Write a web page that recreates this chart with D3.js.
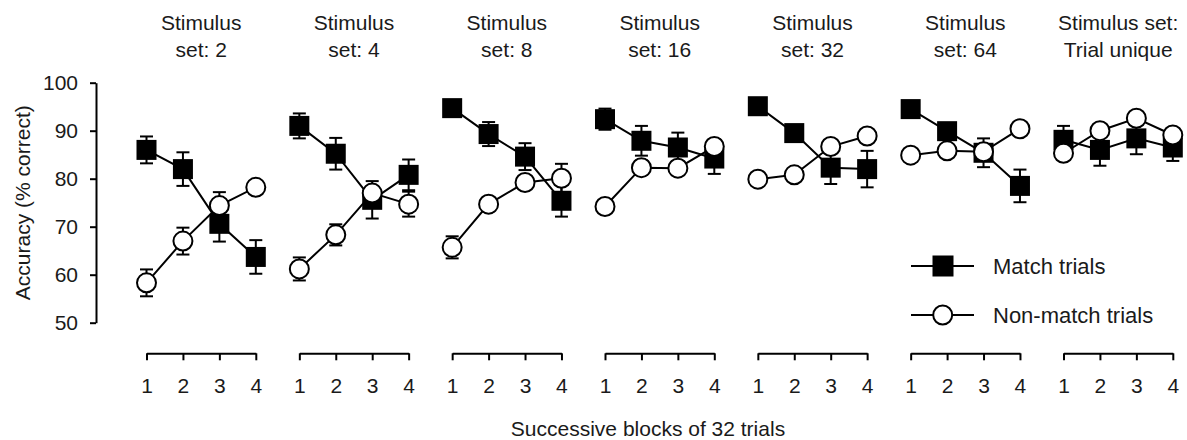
<!DOCTYPE html>
<html>
<head>
<meta charset="utf-8">
<script src="https://cdn.jsdelivr.net/npm/d3@7"></script>
<style>
  body { margin: 0; background: #fff; }
  text { font-family: "Liberation Sans", Arial, sans-serif; fill: #1a1a1a; }
</style>
</head>
<body>
<svg id="chart" width="1187" height="440"></svg>
<script>
// data
var titlesTop = ["Stimulus", "Stimulus", "Stimulus", "Stimulus", "Stimulus", "Stimulus", "Stimulus set:"];
var titlesBottom = ["set: 2", "set: 4", "set: 8", "set: 16", "set: 32", "set: 64", "Trial unique"];
var blocks = [1, 2, 3, 4];
var yTicks = [50, 60, 70, 80, 90, 100];

var matchMean = [
  [86.0, 82.0, 70.6, 63.7],
  [91.0, 85.2, 75.6, 80.8],
  [94.7, 89.3, 84.6, 75.4],
  [92.4, 87.9, 86.5, 84.2],
  [95.1, 89.5, 82.3, 82.0],
  [94.5, 89.9, 85.4, 78.5],
  [88.1, 86.0, 88.4, 86.5]
];
var matchErr = [
  [2.8, 3.5, 3.7, 3.5],
  [2.6, 3.3, 3.9, 3.2],
  [1.0, 2.5, 2.8, 3.3],
  [2.2, 3.1, 3.1, 3.2],
  [1.0, 1.5, 3.4, 3.8],
  [1.0, 1.5, 3.0, 3.4],
  [2.9, 3.3, 3.3, 2.8]
];
var nonMean = [
  [58.3, 67.0, 74.4, 78.2],
  [61.2, 68.3, 77.0, 74.7],
  [65.7, 74.7, 79.2, 80.1],
  [74.2, 82.3, 82.2, 86.7],
  [79.9, 80.8, 86.7, 88.9],
  [84.9, 85.8, 85.6, 90.4],
  [85.3, 90.0, 92.6, 89.1]
];
var nonErr = [
  [2.8, 2.8, 2.8, 1.0],
  [2.4, 2.2, 1.5, 2.6],
  [2.3, 1.5, 1.0, 3.0],
  [1.0, 1.5, 1.5, 1.5],
  [1.0, 1.0, 1.0, 1.0],
  [1.0, 1.0, 1.5, 1.0],
  [1.0, 1.0, 1.0, 1.0]
];

var svg = d3.select("#chart");
var fs = 21;

var y = d3.scaleLinear().domain([50, 100]).range([322.7, 82.7]);
var panelX = d3.scaleLinear().domain([0, 6]).range([146.5, 1063.5]);
var x = d3.scaleLinear().domain([1, 4]).range([0, 109.3]);
var xAxisY = 353.3;

// y axis
var gy = svg.append("g")
  .attr("transform", "translate(96,0)")
  .call(d3.axisLeft(y).tickValues(yTicks).tickSize(6).tickSizeOuter(0).tickPadding(12));
gy.selectAll("path, line").attr("stroke", "#000").attr("stroke-width", 2);
gy.selectAll("text").attr("font-size", fs).attr("font-family", null).attr("fill", "#1a1a1a");

svg.append("text")
  .attr("transform", "translate(23," + y(75) + ") rotate(-90)")
  .attr("text-anchor", "middle")
  .attr("dy", "0.35em")
  .attr("font-size", fs)
  .text("Accuracy (% correct)");

function drawSeries(g, means, errs, isMatch) {
  var line = d3.line().x(function(d, i) { return x(blocks[i]); }).y(function(d) { return y(d); });
  g.append("path")
    .attr("d", line(means))
    .attr("fill", "none")
    .attr("stroke", "#000")
    .attr("stroke-width", 2);

  var eb = g.selectAll(null).data(means).enter().append("g")
    .attr("transform", function(d, i) { return "translate(" + x(blocks[i]) + ",0)"; });
  eb.append("line")
    .attr("y1", function(d, i) { return y(d - errs[i]); })
    .attr("y2", function(d, i) { return y(d + errs[i]); })
    .attr("stroke", "#000").attr("stroke-width", 2);
  [-1, 1].forEach(function(s) {
    eb.append("line")
      .attr("x1", -6.5).attr("x2", 6.5)
      .attr("y1", function(d, i) { return y(d + s * errs[i]); })
      .attr("y2", function(d, i) { return y(d + s * errs[i]); })
      .attr("stroke", "#000").attr("stroke-width", 2);
  });

  if (isMatch) {
    g.selectAll(null).data(means).enter().append("rect")
      .attr("x", function(d, i) { return x(blocks[i]) - 10; })
      .attr("y", function(d) { return y(d) - 10; })
      .attr("width", 20).attr("height", 20)
      .attr("fill", "#000");
  } else {
    g.selectAll(null).data(means).enter().append("circle")
      .attr("cx", function(d, i) { return x(blocks[i]); })
      .attr("cy", function(d) { return y(d); })
      .attr("r", 9.5)
      .attr("fill", "#fff")
      .attr("stroke", "#000").attr("stroke-width", 2);
  }
}

titlesTop.forEach(function(t, p) {
  var g = svg.append("g").attr("transform", "translate(" + panelX(p) + ",0)");
  var cx = (x.range()[0] + x.range()[1]) / 2;

  g.append("text").attr("x", cx).attr("y", 30).attr("text-anchor", "middle")
    .attr("font-size", fs).text(t);
  g.append("text").attr("x", cx).attr("y", 56.7).attr("text-anchor", "middle")
    .attr("font-size", fs).text(titlesBottom[p]);

  var gx = g.append("g")
    .attr("transform", "translate(0," + xAxisY + ")")
    .call(d3.axisBottom(x).tickValues(blocks).tickSize(7).tickSizeOuter(0).tickPadding(17.5).tickFormat(d3.format("d")));
  gx.selectAll("path, line").attr("stroke", "#000").attr("stroke-width", 2);
  gx.selectAll("text").attr("font-size", fs).attr("font-family", null).attr("fill", "#1a1a1a");

  drawSeries(g, matchMean[p], matchErr[p], true);
  drawSeries(g, nonMean[p], nonErr[p], false);
});

svg.append("text")
  .attr("x", 648).attr("y", 436)
  .attr("text-anchor", "middle")
  .attr("font-size", fs)
  .text("Successive blocks of 32 trials");

// legend
var legend = [
  { label: "Match trials", match: true, y: 266 },
  { label: "Non-match trials", match: false, y: 315 }
];
legend.forEach(function(l) {
  var g = svg.append("g").attr("transform", "translate(0," + l.y + ")");
  g.append("line").attr("x1", 911).attr("x2", 974).attr("stroke", "#000").attr("stroke-width", 2);
  if (l.match) {
    g.append("rect").attr("x", 932.5).attr("y", -10.5).attr("width", 21).attr("height", 21).attr("fill", "#000");
  } else {
    g.append("circle").attr("cx", 942.7).attr("r", 9.5).attr("fill", "#fff").attr("stroke", "#000").attr("stroke-width", 2);
  }
  g.append("text").attr("x", 993).attr("dy", "0.35em").attr("font-size", 22).text(l.label);
});
</script>
</body>
</html>
